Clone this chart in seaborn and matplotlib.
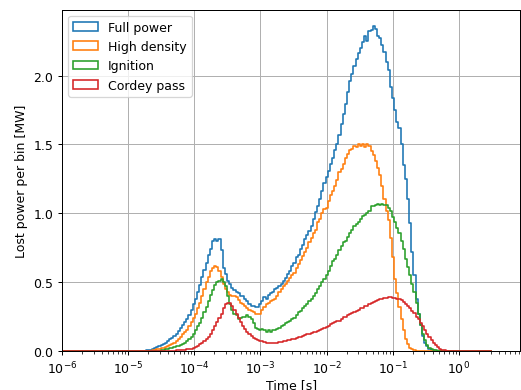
import numpy as np
import matplotlib
matplotlib.use('Agg')
import matplotlib.pyplot as plt
from matplotlib.patches import Patch
import seaborn as sns

# log-spaced time bins [s]
t_min, t_max = 1e-6, 3.0
n_bins = 200
x_ticks = [1e-6, 1e-5, 1e-4, 1e-3, 1e-2, 1e-1, 1e0]

# lost power per bin [MW] (20 bins per row)
full_power = [
    0, 0, 0, 0, 0, 0, 0, 0, 0, 0, 0, 0, 0, 0, 0, 0, 0, 0, 0, 0,
    0, 0, 0, 0, 0, 0, 0, 0, 0, 0, 0, 0, 0, 0, 0, 0, 0, 0, 0.002, 0.004,
    0.006, 0.01, 0.015, 0.02, 0.027, 0.035, 0.045, 0.05, 0.06, 0.07, 0.085, 0.095, 0.11, 0.125, 0.145, 0.165, 0.19, 0.21, 0.235, 0.265,
    0.30, 0.34, 0.38, 0.43, 0.48, 0.54, 0.59, 0.64, 0.70, 0.74, 0.80, 0.81, 0.80, 0.81, 0.73, 0.60, 0.56, 0.51, 0.49, 0.46,
    0.44, 0.43, 0.42, 0.40, 0.40, 0.38, 0.36, 0.34, 0.33, 0.33, 0.32, 0.32, 0.34, 0.36, 0.39, 0.38, 0.41, 0.42, 0.43, 0.45,
    0.46, 0.47, 0.49, 0.51, 0.53, 0.56, 0.58, 0.62, 0.64, 0.68, 0.70, 0.74, 0.77, 0.81, 0.84, 0.87, 0.91, 0.96, 1.01, 1.05,
    1.10, 1.16, 1.22, 1.26, 1.31, 1.36, 1.40, 1.46, 1.50, 1.57, 1.65, 1.72, 1.79, 1.88, 1.96, 2.01, 2.07, 2.12, 2.16, 2.20,
    2.24, 2.29, 2.25, 2.32, 2.33, 2.36, 2.34, 2.29, 2.27, 2.22, 2.17, 2.10, 2.04, 1.92, 1.84, 1.75, 1.66, 1.62, 1.50, 1.35,
    1.25, 1.10, 0.93, 0.72, 0.55, 0.38, 0.27, 0.19, 0.11, 0.06, 0.035, 0.018, 0.009, 0.004, 0.002, 0.001, 0, 0, 0, 0,
    0, 0, 0, 0, 0, 0, 0, 0, 0, 0, 0, 0, 0, 0, 0, 0, 0, 0, 0, 0,
]
high_density = [
    0, 0, 0, 0, 0, 0, 0, 0, 0, 0, 0, 0, 0, 0, 0, 0, 0, 0, 0, 0,
    0, 0, 0, 0, 0, 0, 0, 0, 0, 0, 0, 0, 0, 0, 0, 0, 0, 0, 0, 0,
    0, 0.003, 0.005, 0.008, 0.012, 0.016, 0.02, 0.025, 0.03, 0.037, 0.045, 0.05, 0.06, 0.07, 0.085, 0.10, 0.12, 0.135, 0.155, 0.18,
    0.21, 0.24, 0.27, 0.31, 0.35, 0.40, 0.45, 0.50, 0.54, 0.58, 0.60, 0.62, 0.61, 0.58, 0.54, 0.49, 0.45, 0.43, 0.41, 0.40,
    0.40, 0.39, 0.37, 0.35, 0.34, 0.33, 0.31, 0.30, 0.29, 0.28, 0.27, 0.27, 0.27, 0.30, 0.32, 0.34, 0.35, 0.36, 0.37, 0.38,
    0.40, 0.43, 0.45, 0.47, 0.49, 0.51, 0.53, 0.55, 0.57, 0.60, 0.63, 0.66, 0.69, 0.72, 0.75, 0.79, 0.82, 0.86, 0.88, 0.94,
    0.96, 1.00, 1.03, 1.04, 1.09, 1.13, 1.16, 1.20, 1.24, 1.30, 1.32, 1.36, 1.40, 1.43, 1.46, 1.47, 1.49, 1.48, 1.50, 1.49,
    1.50, 1.48, 1.50, 1.49, 1.45, 1.42, 1.38, 1.33, 1.28, 1.20, 1.10, 1.02, 0.95, 0.82, 0.68, 0.52, 0.42, 0.32, 0.23, 0.15,
    0.09, 0.05, 0.025, 0.012, 0.005, 0.002, 0.001, 0, 0, 0, 0, 0, 0, 0, 0, 0, 0, 0, 0, 0,
    0, 0, 0, 0, 0, 0, 0, 0, 0, 0, 0, 0, 0, 0, 0, 0, 0, 0, 0, 0,
]
ignition = [
    0, 0, 0, 0, 0, 0, 0, 0, 0, 0, 0, 0, 0, 0, 0, 0, 0, 0, 0, 0,
    0, 0, 0, 0, 0, 0, 0, 0, 0, 0, 0, 0, 0, 0, 0, 0, 0, 0, 0, 0,
    0, 0, 0, 0, 0, 0.003, 0.005, 0.008, 0.012, 0.016, 0.02, 0.025, 0.03, 0.035, 0.04, 0.045, 0.05, 0.06, 0.075, 0.09,
    0.105, 0.12, 0.15, 0.18, 0.20, 0.24, 0.28, 0.32, 0.36, 0.41, 0.44, 0.48, 0.50, 0.51, 0.52, 0.50, 0.47, 0.40, 0.34, 0.30,
    0.27, 0.26, 0.23, 0.24, 0.25, 0.25, 0.26, 0.25, 0.23, 0.20, 0.17, 0.16, 0.15, 0.16, 0.15, 0.14, 0.15, 0.14, 0.15, 0.15,
    0.16, 0.17, 0.18, 0.19, 0.20, 0.21, 0.22, 0.23, 0.24, 0.26, 0.28, 0.29, 0.31, 0.33, 0.34, 0.36, 0.38, 0.40, 0.42, 0.45,
    0.47, 0.50, 0.52, 0.55, 0.58, 0.62, 0.65, 0.67, 0.70, 0.73, 0.76, 0.79, 0.80, 0.83, 0.86, 0.88, 0.91, 0.92, 0.94, 0.96,
    0.98, 0.99, 1.00, 1.02, 1.05, 1.05, 1.06, 1.07, 1.06, 1.07, 1.06, 1.06, 1.04, 1.02, 0.97, 0.94, 0.89, 0.86, 0.80, 0.74,
    0.67, 0.61, 0.55, 0.49, 0.43, 0.35, 0.27, 0.19, 0.12, 0.08, 0.045, 0.025, 0.014, 0.008, 0.004, 0.002, 0.001, 0, 0, 0,
    0, 0, 0, 0, 0, 0, 0, 0, 0, 0, 0, 0, 0, 0, 0, 0, 0, 0, 0, 0,
]
cordey_pass = [
    0, 0, 0, 0, 0, 0, 0, 0, 0, 0, 0, 0, 0, 0, 0, 0, 0, 0, 0, 0,
    0, 0, 0, 0, 0, 0, 0, 0, 0, 0, 0, 0, 0, 0, 0, 0, 0, 0, 0, 0,
    0, 0, 0, 0, 0, 0, 0, 0, 0, 0, 0, 0.002, 0.003, 0.004, 0.005, 0.006, 0.008, 0.01, 0.012, 0.014,
    0.016, 0.02, 0.03, 0.04, 0.05, 0.06, 0.075, 0.09, 0.10, 0.12, 0.15, 0.18, 0.21, 0.24, 0.27, 0.31, 0.34, 0.35, 0.35, 0.33,
    0.30, 0.27, 0.24, 0.21, 0.18, 0.16, 0.14, 0.12, 0.11, 0.095, 0.085, 0.08, 0.075, 0.07, 0.065, 0.06, 0.058, 0.055, 0.055, 0.056,
    0.058, 0.062, 0.065, 0.07, 0.075, 0.078, 0.082, 0.085, 0.09, 0.095, 0.10, 0.105, 0.11, 0.115, 0.12, 0.125, 0.13, 0.135, 0.14, 0.145,
    0.15, 0.16, 0.17, 0.175, 0.185, 0.195, 0.20, 0.21, 0.215, 0.22, 0.235, 0.245, 0.25, 0.26, 0.27, 0.275, 0.285, 0.29, 0.30, 0.31,
    0.315, 0.325, 0.33, 0.34, 0.35, 0.355, 0.36, 0.37, 0.375, 0.38, 0.385, 0.385, 0.39, 0.39, 0.385, 0.385, 0.38, 0.375, 0.37, 0.355,
    0.34, 0.325, 0.31, 0.29, 0.275, 0.25, 0.23, 0.205, 0.18, 0.15, 0.125, 0.10, 0.08, 0.06, 0.045, 0.03, 0.018, 0.01, 0.006, 0.003,
    0.002, 0.001, 0, 0, 0, 0, 0, 0, 0, 0, 0, 0, 0, 0, 0, 0, 0, 0, 0, 0,
]

series = [('Full power', full_power, 'tab:blue'),
          ('High density', high_density, 'tab:orange'),
          ('Ignition', ignition, 'tab:green'),
          ('Cordey pass', cordey_pass, 'tab:red')]

log_edges = np.linspace(np.log10(t_min), np.log10(t_max), n_bins + 1)
centers = 10 ** ((log_edges[:-1] + log_edges[1:]) / 2)

# reference is rendered at ~90 dpi
dpi = 90
fig = plt.figure(figsize=(521 / dpi, 391 / dpi), dpi=dpi)
ax = fig.add_axes([0.119, 0.0997, 0.880, 0.873])

handles = []
for name, vals, color in series:
    # binrange is in log10 units when log_scale is on
    sns.histplot(x=centers, weights=vals, bins=n_bins,
                 binrange=(log_edges[0], log_edges[-1]), log_scale=True,
                 element='step', fill=False, color=color, linewidth=1.3, ax=ax)
    handles.append(Patch(facecolor='none', edgecolor=color, linewidth=1.3, label=name))

ax.set_xticks(x_ticks)
ax.set_xlim(1e-6, 8.5)
ax.set_ylim(bottom=0)
ax.grid(True)
ax.set_xlabel('Time [s]', labelpad=1)
ax.set_ylabel('Lost power per bin [MW]')
ax.legend(handles=handles, loc='upper left')

fig.savefig('out.png', dpi=dpi)
